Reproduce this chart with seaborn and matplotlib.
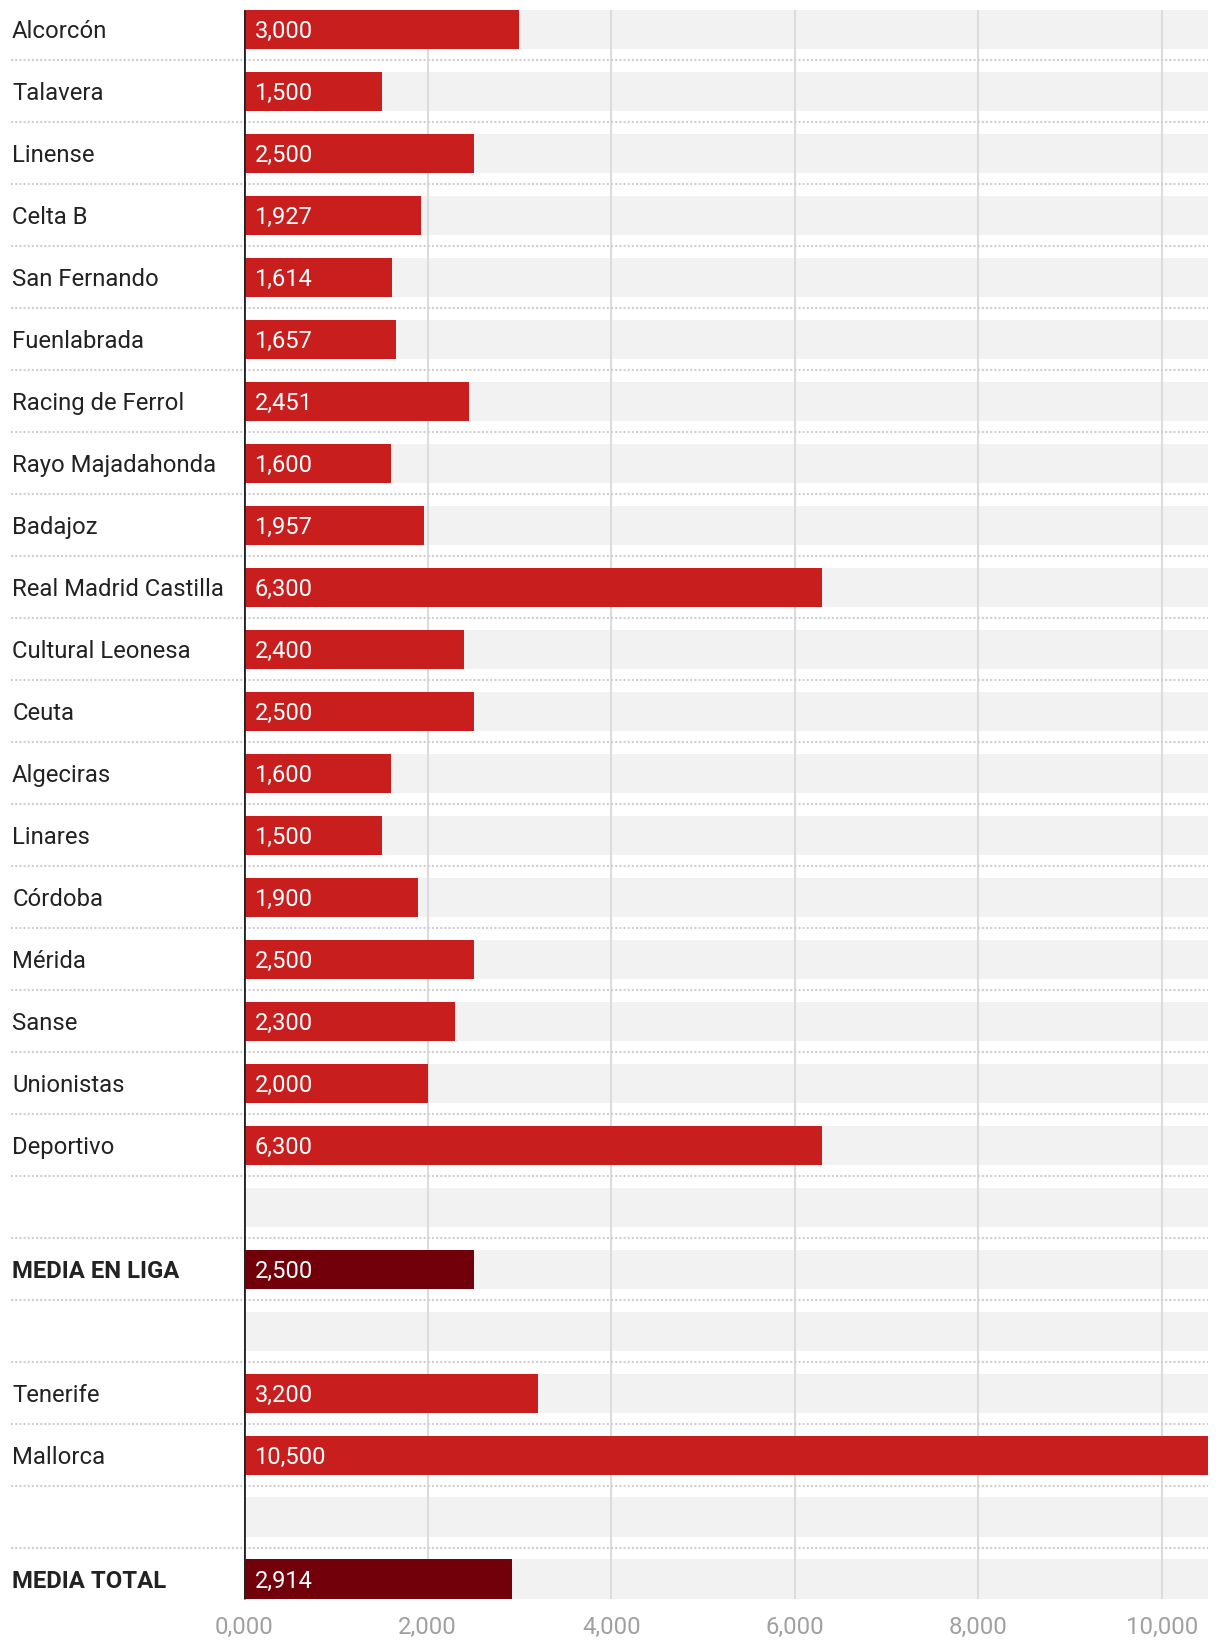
import numpy as np
import pandas as pd
import matplotlib
matplotlib.use("Agg")
import matplotlib.pyplot as plt
import matplotlib.ticker as mticker
import seaborn as sns

# Datos
equipos = ["Alcorcón", "Talavera", "Linense", "Celta B", "San Fernando", "Fuenlabrada",
           "Racing de Ferrol", "Rayo Majadahonda", "Badajoz", "Real Madrid Castilla",
           "Cultural Leonesa", "Ceuta", "Algeciras", "Linares", "Córdoba", "Mérida",
           "Sanse", "Unionistas", "Deportivo", "", "MEDIA EN LIGA", " ",
           "Tenerife", "Mallorca", "  ", "MEDIA TOTAL"]
valores = [3000, 1500, 2500, 1927, 1614, 1657, 2451, 1600, 1957, 6300,
           2400, 2500, 1600, 1500, 1900, 2500, 2300, 2000, 6300, 0, 2500, 0,
           3200, 10500, 0, 2914]
tipo = ["equipo"] * 19 + ["vacio", "media", "vacio", "equipo", "equipo", "vacio", "media"]

X_MAX = 10500
ticks = [0, 2000, 4000, 6000, 8000, 10000]

df = pd.DataFrame({"equipo": equipos, "valor": valores, "tipo": tipo})
df["fondo"] = X_MAX

sns.set_style("white")
plt.rcParams["font.family"] = ["Roboto", "DejaVu Sans"]

fig = plt.figure(figsize=(12.2, 16.46), dpi=100)
W, H = 1220, 1646
ax = fig.add_axes([244 / W, 1 - 1610 / H, 964 / W, 1610 / H])

ancho = 0.63
n = len(equipos)

# Fondo gris de cada fila
sns.barplot(data=df, y="equipo", x="fondo", order=equipos, color="#f2f2f2",
            width=ancho, linewidth=0, saturation=1, ax=ax, zorder=1)

# Rejilla vertical
ax.vlines(ticks[1:], -ancho / 2, n - 1 + ancho / 2, color="#dcdcdc", lw=1.5, zorder=2)

# Barras
paleta = {"equipo": "#c81e1e", "media": "#72000a", "vacio": "#ffffff"}
sns.barplot(data=df, y="equipo", x="valor", hue="tipo", order=equipos, palette=paleta,
            dodge=False, width=ancho, linewidth=0, saturation=1, legend=False, ax=ax, zorder=3)

ax.set_xlim(0, X_MAX)
ax.set_ylim(n - 0.5, -0.474)

# Separadores punteados
for i in range(n - 1):
    ax.axhline(i + 0.5, xmin=(10.5 - 244) / 964, xmax=1, color="#cfcfcf", lw=1.5,
               ls=(0, (1, 1)), clip_on=False, zorder=2)

# Eje en cero
ax.vlines(0, -ancho / 2, n - 1 + ancho / 2, color="#222222", lw=2, zorder=5)

# Etiquetas
for i, (eq, v, t) in enumerate(zip(equipos, valores, tipo)):
    if t == "vacio":
        continue
    ax.annotate(eq, (-0.2405, i), xycoords=ax.get_yaxis_transform(), xytext=(0, -1.5),
                textcoords="offset points", ha="left", va="center",
                fontsize=17.2, color="#222222", fontweight="bold" if t == "media" else "normal")
    ax.annotate(f"{v:,}", (0, i), xytext=(7.5, -1.5), textcoords="offset points",
                ha="left", va="center", fontsize=17, color="white", zorder=6)

ax.set_yticks([])
ax.set_ylabel("")
ax.set_xlabel("")
ax.set_xticks(ticks)
ax.xaxis.set_major_formatter(mticker.FuncFormatter(lambda x, p: f"{int(x) // 1000},{int(x) % 1000:03d}"))
ax.tick_params(axis="x", length=0, labelsize=17.2, labelcolor="#a0a0a0", pad=4.5)
for s in ax.spines.values():
    s.set_visible(False)

fig.savefig("out.png", dpi=100)
